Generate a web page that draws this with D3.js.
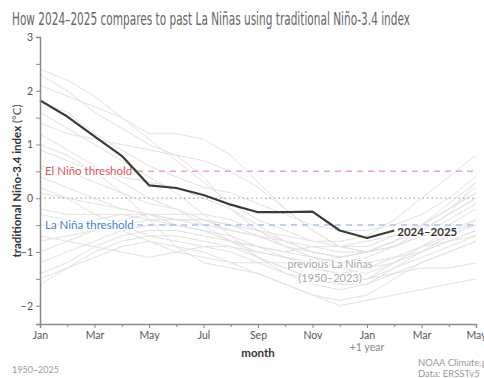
<!DOCTYPE html>
<html>
<head>
<meta charset="utf-8">
<script src="https://cdn.jsdelivr.net/npm/d3@7/dist/d3.min.js"></script>
<style>
  html, body { margin: 0; padding: 0; background: #fff; }
  svg { display: block; }
  text { font-family: Lato, "Open Sans", sans-serif; }
</style>
</head>
<body>
<svg id="chart" width="484" height="378"></svg>
<script>
// Month positions: 0 = Jan, 16 = May of the following year
const months = ["Jan","Feb","Mar","Apr","May","Jun","Jul","Aug","Sep","Oct","Nov","Dec",
                "Jan","Feb","Mar","Apr","May"];
const xTickLabels = ["Jan","Mar","May","Jul","Sep","Nov","Jan","Mar","May"];
const yTicks = [-2, -1, 0, 1, 2, 3];

// Current event (Jan 2024 – Feb 2025)
const current = [1.82, 1.52, 1.15, 0.79, 0.24, 0.19, 0.06, -0.12, -0.26, -0.26, -0.25, -0.6, -0.74, -0.6];

// Earlier La Niña events, Jan of the onset year through May of the following year
const pastEvents = [
  [2.4, 2.2, 1.9, 1.5, 1.1, 0.7, 0.3, -0.1, -0.4, -0.6, -0.8, -0.9, -0.9, -0.7, -0.5, -0.2, 0.1],
  [2.3, 2.0, 1.6, 1.3, 1.0, 0.8, 0.4, -0.2, -0.6, -0.9, -1.1, -1.3, -1.4, -1.2, -0.9, -0.7, -0.5],
  [2.1, 1.9, 1.7, 1.5, 1.2, 1.2, 1.1, 0.8, 0.3, -0.2, -0.6, -0.9, -1.0, -0.9, -0.7, -0.4, -0.1],
  [1.6, 1.3, 1.0, 0.7, 0.4, 0.1, -0.3, -0.7, -1.1, -1.4, -1.6, -1.7, -1.6, -1.3, -1.0, -0.8, -0.6],
  [1.2, 0.9, 0.6, 0.3, 0.0, -0.2, -0.5, -0.8, -1.1, -1.3, -1.5, -1.6, -1.5, -1.2, -0.9, -0.6, -0.4],
  [1.0, 0.8, 0.5, 0.1, -0.4, -0.9, -1.2, -1.3, -1.4, -1.6, -1.8, -1.9, -1.8, -1.5, -1.2, -1.0, -0.8],
  [0.6, 0.5, 0.3, 0.1, -0.1, -0.2, -0.4, -0.6, -0.7, -0.9, -1.0, -1.1, -1.0, -0.8, -0.6, -0.3, 0.0],
  [0.4, 0.2, 0.0, -0.2, -0.3, -0.4, -0.4, -0.5, -0.7, -0.9, -1.1, -1.2, -1.1, -0.9, -0.7, -0.6, -0.5],
  [0.1, 0.0, -0.1, -0.2, -0.3, -0.5, -0.6, -0.8, -1.0, -1.1, -1.2, -1.1, -1.0, -0.8, -0.5, -0.2, 0.2],
  [-0.2, -0.3, -0.3, -0.3, -0.4, -0.5, -0.6, -0.8, -0.9, -1.0, -0.9, -0.9, -0.8, -0.7, -0.6, -0.3, 0.0],
  [-0.5, -0.5, -0.4, -0.3, -0.3, -0.4, -0.5, -0.6, -0.7, -0.8, -0.9, -1.0, -1.0, -0.9, -0.6, -0.3, 0.3],
  [-0.8, -0.7, -0.6, -0.5, -0.4, -0.4, -0.4, -0.5, -0.6, -0.7, -0.8, -0.8, -0.7, -0.4, 0.0, 0.4, 0.8],
  [-1.0, -0.8, -0.6, -0.4, -0.3, -0.3, -0.3, -0.4, -0.6, -0.8, -1.0, -1.1, -1.0, -0.8, -0.5, -0.2, 0.1],
  [-1.2, -1.0, -0.8, -0.6, -0.5, -0.5, -0.6, -0.7, -0.9, -1.1, -1.3, -1.4, -1.3, -1.1, -0.9, -0.8, -0.7],
  [-1.4, -1.2, -0.9, -0.7, -0.6, -0.6, -0.7, -0.8, -0.9, -1.0, -1.1, -1.2, -1.2, -1.1, -1.0, -0.8, -0.6],
  [-1.6, -1.3, -1.0, -0.8, -0.7, -0.7, -0.8, -0.9, -1.1, -1.3, -1.5, -1.6, -1.6, -1.4, -1.3, -1.3, -1.2],
  [-1.5, -1.3, -1.1, -0.9, -0.8, -0.9, -1.0, -1.2, -1.4, -1.6, -1.8, -2.0, -1.9, -1.8, -1.7, -1.6, -1.5],
  [1.8, 1.6, 1.2, 0.9, 0.6, 0.4, 0.2, 0.1, -0.1, -0.3, -0.5, -0.6, -0.6, -0.5, -0.3, 0.0, 0.4],
  [0.9, 0.7, 0.5, 0.4, 0.3, 0.2, 0.0, -0.2, -0.5, -0.8, -1.0, -1.1, -1.0, -0.8, -0.5, -0.1, 0.3],
  [-0.3, -0.4, -0.5, -0.6, -0.8, -1.0, -1.1, -1.2, -1.2, -1.2, -1.3, -1.4, -1.5, -1.4, -1.2, -1.0, -0.8],
  [1.4, 1.2, 1.1, 1.0, 0.9, 0.8, 0.7, 0.5, 0.2, -0.2, -0.6, -0.9, -1.0, -0.9, -0.7, -0.5, -0.2],
  [-0.7, -0.8, -0.9, -1.0, -1.1, -1.0, -0.9, -0.9, -1.0, -1.1, -1.2, -1.3, -1.3, -1.2, -1.0, -0.7, -0.4],
  [0.2, 0.0, -0.3, -0.5, -0.7, -0.8, -0.9, -1.0, -1.2, -1.4, -1.5, -1.6, -1.5, -1.3, -1.1, -0.9, -0.7]
];

const thresholds = [
  { value: 0.5, label: "El Niño threshold", color: "#d9535a", line: "#ecaaae" },
  { value: -0.5, label: "La Niña threshold", color: "#3f80d2", line: "#a9c4ea" }
];

const svg = d3.select("#chart");
const plot = { left: 40, right: 476, top: 37, bottom: 324 };

const x = d3.scaleLinear().domain([0, 16]).range([plot.left, plot.right]);
const y = d3.scaleLinear().domain([-2.34, 3]).range([plot.bottom, plot.top]);

const line = d3.line().x((d, i) => x(i)).y(d => y(d));

// Title: condensed face, stretched vertically for a tall narrow look
svg.append("text")
  .attr("transform", "translate(12,25) scale(1,1.4)")
  .attr("fill", "#666")
  .style("font-family", "'DejaVu Sans Condensed', 'DejaVu Sans', sans-serif")
  .style("font-stretch", "condensed")
  .style("font-size", "13.2px")
  .attr("textLength", 398)
  .attr("lengthAdjust", "spacingAndGlyphs")
  .text("How 2024–2025 compares to past La Niñas using traditional Niño-3.4 index");

// Past events
svg.append("g")
  .selectAll("path")
  .data(pastEvents)
  .join("path")
  .attr("d", line)
  .attr("fill", "none")
  .attr("stroke", "#e2e2e2")
  .attr("stroke-width", 1);

// Zero line
svg.append("line")
  .attr("x1", x(0)).attr("x2", x(16))
  .attr("y1", y(0)).attr("y2", y(0))
  .attr("stroke", "#b8b8b8")
  .attr("stroke-width", 1.3)
  .attr("stroke-dasharray", "1.5,3");

// Threshold lines with labels
const th = svg.append("g");
thresholds.forEach(t => {
  th.append("line")
    .attr("x1", x(0) + 86).attr("x2", x(16))
    .attr("y1", y(t.value)).attr("y2", y(t.value))
    .attr("stroke", t.line)
    .attr("stroke-width", 1.5)
    .attr("stroke-dasharray", "6,5");
  th.append("text")
    .attr("x", x(0) + 5).attr("y", y(t.value))
    .attr("dy", "0.35em")
    .attr("fill", t.color)
    .style("font-size", "11.5px")
    .attr("stroke", "#fff").attr("stroke-width", 3)
    .style("paint-order", "stroke")
    .text(t.label);
});

// Current event
svg.append("path")
  .attr("d", line(current))
  .attr("fill", "none")
  .attr("stroke", "#3a3a3a")
  .attr("stroke-width", 2.2)
  .attr("stroke-linejoin", "round");

const last = current.length - 1;
svg.append("text")
  .attr("x", x(last) + 3).attr("y", y(current[last]) + 1)
  .attr("dy", "0.35em")
  .attr("fill", "#333")
  .style("font-size", "11.5px")
  .style("font-weight", "bold")
  .attr("stroke", "#fff").attr("stroke-width", 3)
  .style("paint-order", "stroke")
  .text("2024–2025");

// Label for the past events
const pl = svg.append("text")
  .attr("text-anchor", "middle")
  .attr("fill", "#a8a8a8")
  .style("font-size", "11px")
  .attr("stroke", "#fff").attr("stroke-width", 3).attr("stroke-opacity", 0.8)
  .style("paint-order", "stroke");
pl.append("tspan").attr("x", 330).attr("y", 268).text("previous La Niñas");
pl.append("tspan").attr("x", 330).attr("y", 282).text("(1950–2023)");

// Axes
const axisColor = "#8a8a8a";
const yAxis = d3.axisLeft(y).tickValues(yTicks).tickSize(4).tickPadding(3).tickFormat(d3.format("d"));
const yMinor = d3.axisLeft(y).tickValues([-1.5, -0.5, 0.5, 1.5, 2.5]).tickSize(4).tickFormat("");

const gy = svg.append("g").attr("transform", `translate(${plot.left},0)`).call(yAxis);
svg.append("g").attr("transform", `translate(${plot.left},0)`).call(yMinor).call(g => g.select(".domain").remove());

const xMajor = d3.range(0, 17, 2);
const xAxis = d3.axisBottom(x).tickValues(xMajor).tickSize(4).tickPadding(4)
  .tickFormat((d, i) => xTickLabels[i]);
const xMinor = d3.axisBottom(x).tickValues(d3.range(1, 17, 2)).tickSize(3).tickFormat("");

const gx = svg.append("g").attr("transform", `translate(0,${plot.bottom})`).call(xAxis);
svg.append("g").attr("transform", `translate(0,${plot.bottom})`).call(xMinor).call(g => g.select(".domain").remove());

svg.selectAll(".domain").attr("stroke", axisColor).attr("stroke-width", 1.5);
svg.selectAll(".tick line").attr("stroke", axisColor);
svg.selectAll(".tick text")
  .attr("fill", "#555")
  .style("font-family", "Lato, 'Open Sans', sans-serif")
  .style("font-size", "10.5px");

// Axis titles
svg.append("text")
  .attr("x", x(12)).attr("y", 351)
  .attr("text-anchor", "middle")
  .attr("fill", "#888")
  .style("font-size", "10.5px")
  .text("+1 year");

svg.append("text")
  .attr("x", x(8)).attr("y", 357)
  .attr("text-anchor", "middle")
  .attr("fill", "#333")
  .style("font-size", "11.5px")
  .style("font-weight", "bold")
  .text("month");

const yt = svg.append("text")
  .attr("transform", "translate(21,181) rotate(-90)")
  .attr("text-anchor", "middle")
  .attr("fill", "#333")
  .style("font-size", "11.5px");
yt.append("tspan").style("font-weight", "bold").text("traditional Niño-3.4 index ");
yt.append("tspan").attr("fill", "#555").text("(°C)");

// Footer
svg.append("text")
  .attr("x", 12).attr("y", 373)
  .attr("fill", "#999")
  .style("font-size", "9px")
  .text("1950–2025");

svg.append("text")
  .attr("x", 418).attr("y", 366)
  .attr("fill", "#999")
  .style("font-size", "9.5px")
  .text("NOAA Climate.gov");

svg.append("text")
  .attr("x", 418).attr("y", 377)
  .attr("fill", "#999")
  .style("font-size", "9.5px")
  .text("Data: ERSSTv5");
</script>
</body>
</html>
